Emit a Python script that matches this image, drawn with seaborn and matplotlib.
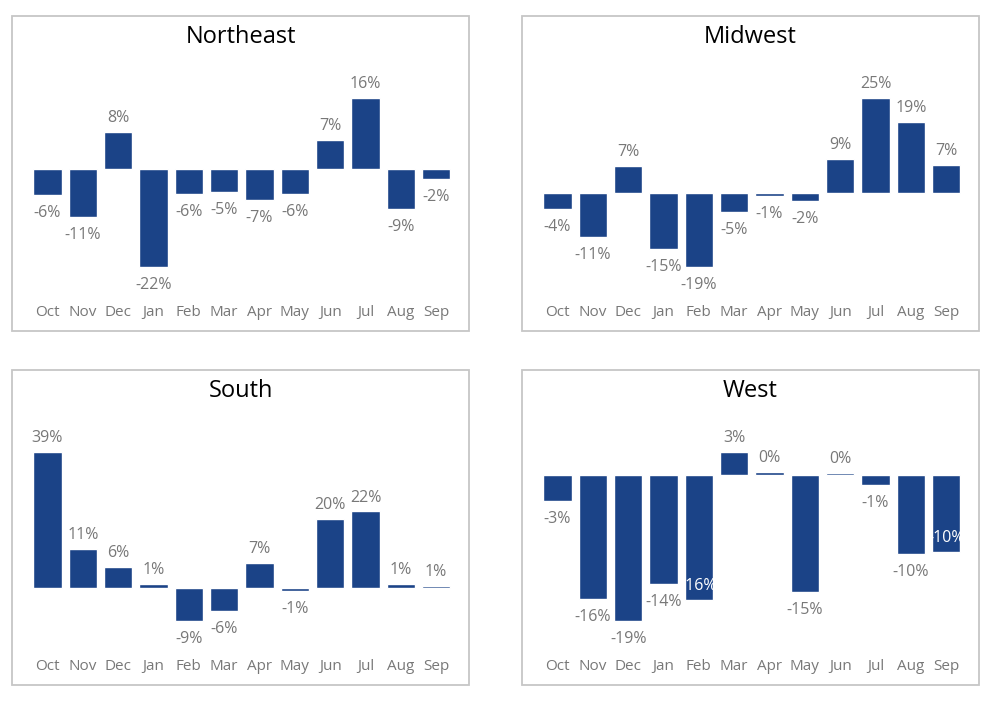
import numpy as np
import pandas as pd
import matplotlib.pyplot as plt
import seaborn as sns
from matplotlib.patches import Rectangle

months = ["Oct", "Nov", "Dec", "Jan", "Feb", "Mar", "Apr", "May", "Jun", "Jul", "Aug", "Sep"]

northeast = [-5.8, -10.9, 8.3, -22.1, -5.6, -5.3, -6.9, -5.6, 6.6, 16.0, -9.0, -2.3]
midwest = [-4.2, -11.4, 7.1, -14.8, -19.4, -4.9, -0.7, -2.1, 8.9, 25.0, 18.6, 7.3]
south = [39.0, 11.2, 6.1, 1.3, -9.3, -6.4, 7.2, -0.8, 19.8, 22.0, 1.2, 0.8]
west = [-3.4, -16.3, -19.2, -14.4, -16.4, 3.0, 0.4, -15.4, 0.2, -1.4, -10.4, -10.1]

regions = ["Northeast", "Midwest", "South", "West"]
# labels drawn inside the bar end (white) where they would not fit outside
inside_labels = {"Northeast": [], "Midwest": [], "South": [], "West": [4, 11]}

BAR = "#1b4387"
GREY = "#787878"
W, H = 1000, 703

sns.set_style("white")
plt.rcParams["font.family"] = ["Open Sans", "DejaVu Sans"]

fig = plt.figure(figsize=(W / 100, H / 100), dpi=100)
fig.patch.set_facecolor("white")

# panel boxes in pixels: (left, top)
boxes = [(12, 16), (522, 16), (12, 370), (522, 370)]
box_w, box_h = 457, 315

for name, vals, (x0, y0) in zip(regions, [northeast, midwest, south, west], boxes):
    fig.add_artist(Rectangle((x0 / W, 1 - (y0 + box_h) / H), box_w / W, box_h / H,
                             transform=fig.transFigure, fill=False,
                             edgecolor="#c6c6c6", lw=1.3))
    fig.text((x0 + box_w / 2) / W, 1 - (y0 + 21) / H, name, ha="center", va="center",
             fontsize=17, color="black")

    ax_top, ax_bot = y0 + 60, y0 + 282
    ax = fig.add_axes([(x0 + 17.8) / W, 1 - ax_bot / H, 424 / W, (ax_bot - ax_top) / H])
    sns.barplot(x=months, y=vals, order=months, color=BAR, saturation=1,
                width=0.8, ax=ax)

    vmax, vmin = max(max(vals), 0), min(min(vals), 0)
    s = 169 / (vmax - vmin)
    ax.set_ylim(vmin - 31 / s, vmax + 22 / s)
    ax.set_xlim(-0.5, 11.5)

    for i, v in enumerate(vals):
        d = 1 if v >= 0 else -1
        col = GREY
        if i in inside_labels[name]:
            d, col = -d, "white"
        ax.annotate(f"{v:.0f}%", (i, v), xytext=(0, d * 11.5), textcoords="offset points",
                    ha="center", va="center_baseline", fontsize=11.5, color=col)

    sns.despine(ax=ax, left=True, bottom=True)
    ax.set_yticks([])
    ax.set_xlabel("")
    ax.set_ylabel("")
    ax.tick_params(axis="x", length=0, pad=5, labelsize=11, labelcolor=GREY)
    ax.patch.set_alpha(0)

fig.savefig("out.png", dpi=100)
